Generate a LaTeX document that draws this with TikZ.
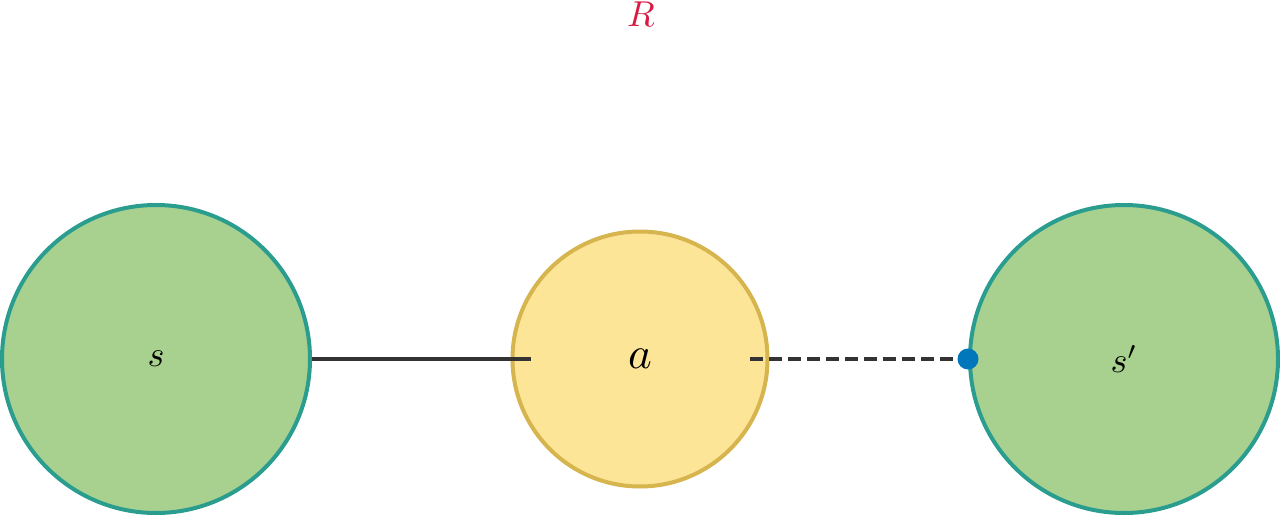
\documentclass[tikz,border=0pt]{standalone}
\newcommand{\mylbl}[2]{\scalebox{#1}{$#2$}}
\begin{document}
\begin{tikzpicture}[x=1pt,y=-1pt,
  statenode/.style={circle,draw=tealc,fill=greenf,line width=4pt,minimum size=308pt,inner sep=0pt},
  actnode/.style={circle,draw=yels,fill=yelf,line width=4pt,minimum size=255pt,inner sep=0pt},
  link/.style={draw=darkl,line width=3.5pt},
  dashlink/.style={link,dash pattern=on 13pt off 6pt},
  dotc/.style={circle,fill=bluec,inner sep=0pt,minimum size=21pt}]
\definecolor{tealc}{HTML}{2A9D8F}
\definecolor{greenf}{HTML}{A8D18F}
\definecolor{yels}{HTML}{D6B44E}
\definecolor{yelf}{HTML}{FDE598}
\definecolor{darkl}{HTML}{333333}
\definecolor{bluec}{HTML}{0077BB}
\definecolor{redc}{HTML}{D81B43}
\useasboundingbox (0,0) rectangle (1280,516);
\node[statenode] (s) at (156,359) {\mylbl{3.6}{s}};
\node[actnode] (a) at (640,359) {\mylbl{4.5}{a}};
\node[statenode] (sp) at (1124,359) {\mylbl{3.6}{s'}};
\node[text=redc] (R) at (641,14) {\mylbl{3.6}{R}};
\draw[link] (s.east) -- ([xshift=-109pt]a.center);
\draw[dashlink] ([xshift=110pt]a.center) -- (sp.west);
\node[dotc] (d) at (sp.west) {};
\end{tikzpicture}
\end{document}
